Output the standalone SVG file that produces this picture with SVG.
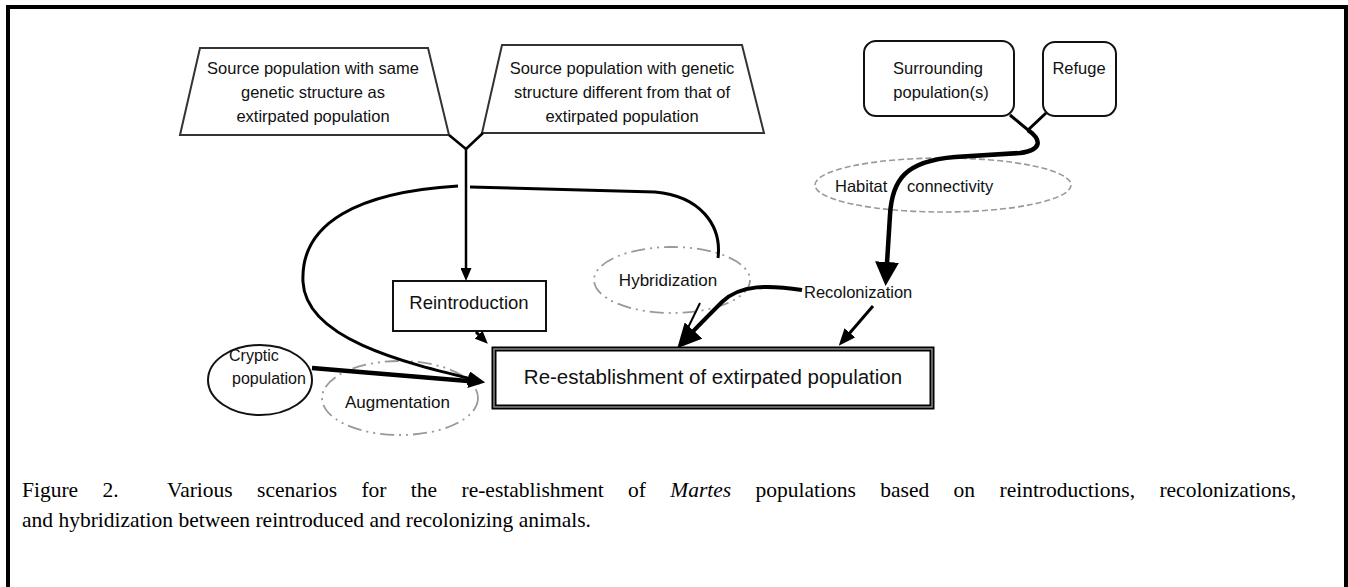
<svg xmlns="http://www.w3.org/2000/svg" width="1348" height="587" viewBox="0 0 1348 587">
<style>
.t{font-family:"Liberation Sans",Arial,sans-serif;fill:#111;}
.trap{fill:#fff;stroke:#333;stroke-width:2;}
.box{fill:#fff;stroke:#111;stroke-width:2;}
.dash{fill:none;stroke:#999;stroke-width:1.6;stroke-dasharray:6 3;}
.dashdot{fill:none;stroke:#999;stroke-width:1.8;stroke-dasharray:14 5 2 5 2 5;}
.ln{fill:none;stroke:#000;stroke-linecap:butt;}
.cap{font-family:"Liberation Serif","Times New Roman",serif;font-size:21.5px;fill:#000;}
</style>
<defs>
<marker id="ah-s" markerWidth="13" markerHeight="11" refX="9" refY="5.5" orient="auto" markerUnits="userSpaceOnUse"><path d="M0,0 L13,5.5 L0,11 Z" fill="#000"/></marker>
<marker id="ah-m" markerWidth="17" markerHeight="14" refX="12" refY="7" orient="auto" markerUnits="userSpaceOnUse"><path d="M0,0 L17,7 L0,14 Z" fill="#000"/></marker>
<marker id="ah-l" markerWidth="24" markerHeight="24" refX="17" refY="12" orient="auto" markerUnits="userSpaceOnUse"><path d="M0,0 L24,12 L0,24 Z" fill="#000"/></marker>
</defs>
<rect x="0" y="0" width="1348" height="587" fill="#fff"/>
<rect id="frame" x="8" y="7" width="1338" height="620" fill="none" stroke="#000" stroke-width="4"/>

<g id="source-same">
<polygon class="trap" points="200,48 428,48 449,135 180,135"/>
<text class="t" font-size="16.5" text-anchor="middle"><tspan x="313" y="74">Source population with same</tspan><tspan x="313" y="98">genetic structure as</tspan><tspan x="313" y="122">extirpated population</tspan></text>
</g>
<g id="source-different">
<polygon class="trap" points="502,45 742,45 764,133 482,133"/>
<text class="t" font-size="16.5" text-anchor="middle"><tspan x="622" y="74">Source population with genetic</tspan><tspan x="622" y="98">structure different from that of</tspan><tspan x="622" y="122">extirpated population</tspan></text>
</g>
<g id="surrounding">
<rect class="box" x="864" y="41" width="150" height="75" rx="12"/>
<text class="t" font-size="16.5" text-anchor="middle"><tspan x="938" y="74">Surrounding</tspan><tspan x="941" y="98">population(s)</tspan></text>
</g>
<g id="refuge">
<rect class="box" x="1043" y="42" width="73" height="74" rx="12"/>
<text class="t" font-size="16.5" text-anchor="middle" x="1079" y="74">Refuge</text>
</g>
<g id="habitat-connectivity">
<ellipse class="dash" cx="943" cy="185" rx="128" ry="27"/>
<text class="t" font-size="16.5" y="192"><tspan x="835">Habitat</tspan><tspan x="907">connectivity</tspan></text>
</g>
<g id="reintroduction">
<rect class="box" x="393" y="281" width="153" height="50"/>
<text class="t" font-size="18.5" text-anchor="middle" x="469" y="309">Reintroduction</text>
</g>
<g id="hybridization">
<ellipse class="dashdot" cx="672" cy="280" rx="78" ry="33"/>
<text class="t" font-size="17" text-anchor="middle" x="668" y="286">Hybridization</text>
</g>
<g id="recolonization">
<text class="t" font-size="16.5" x="804" y="298">Recolonization</text>
</g>
<g id="cryptic">
<ellipse cx="260" cy="380" rx="52" ry="35" fill="none" stroke="#111" stroke-width="2"/>
<text class="t" font-size="16"><tspan x="229" y="361">Cryptic</tspan><tspan x="232" y="384">population</tspan></text>
</g>
<g id="augmentation">
<ellipse class="dashdot" cx="400" cy="398" rx="78" ry="37"/>
<text class="t" font-size="17" x="345" y="408">Augmentation</text>
</g>
<g id="re-establishment">
<rect x="494" y="349" width="438" height="58" fill="#fff" stroke="#000" stroke-width="5"/>
<rect x="494" y="349" width="438" height="58" fill="none" stroke="#888" stroke-width="1.5"/>
<text class="t" font-size="20.5" text-anchor="middle" x="713" y="384">Re-establishment of extirpated population</text>
</g>

<g id="connectors">
<polyline class="ln" stroke-width="2.5" points="449,135 466,149 483,133"/>
<line class="ln" stroke-width="2.5" x1="466" y1="148" x2="466" y2="277" marker-end="url(#ah-s)"/>
<path class="ln" stroke-width="3" d="M458,186 C360,192 300,222 303,282 C306,338 400,362 480,381" marker-end="url(#ah-m)"/>
<path class="ln" stroke-width="3" d="M470,187 L655,192 C700,196 722,225 718,258"/>
<line class="ln" stroke-width="3" x1="476" y1="332" x2="485" y2="341" marker-end="url(#ah-s)"/>
<line class="ln" stroke-width="4.5" x1="312" y1="368" x2="480" y2="382" marker-end="url(#ah-m)"/>
<line class="ln" stroke-width="2" x1="700" y1="303" x2="684" y2="336"/>
<path class="ln" stroke-width="4" d="M802,290 C770,285 740,284 722,302 C706,318 694,330 682,343" marker-end="url(#ah-l)"/>
<line class="ln" stroke-width="3" x1="873" y1="306" x2="842" y2="342" marker-end="url(#ah-m)"/>
<polyline class="ln" stroke-width="3" points="1010,115 1028,130 1046,113"/>
<path class="ln" stroke-width="4.5" d="M1028,130 C1042,140 1042,150 1020,153 L955,157 C905,161 892,180 890,215 L886,279" marker-end="url(#ah-l)"/>
</g>

<g id="caption">
<text class="cap" x="22" y="497" word-spacing="19" xml:space="preserve">Figure 2.  Various scenarios for the re-establishment of <tspan font-style="italic">Martes</tspan> populations based on reintroductions, recolonizations,</text>
<text class="cap" x="22" y="527">and hybridization between reintroduced and recolonizing animals.</text>
</g>
</svg>
